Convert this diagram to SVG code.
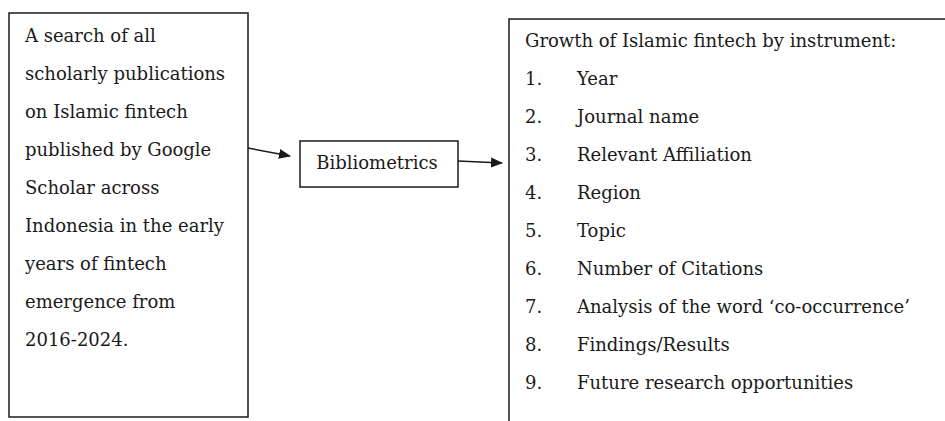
<svg xmlns="http://www.w3.org/2000/svg" width="945" height="421" viewBox="0 0 945 421">
<defs>
<style>
.box{fill:#fff;stroke:#1a1a1a;stroke-width:1.5}
.t{font-family:"DejaVu Serif","Liberation Serif",serif;font-size:18px;fill:#1a1a1a}
.c{stroke:#1a1a1a;stroke-width:1.5;fill:none}
</style>
<marker id="ah" markerWidth="12" markerHeight="12" refX="11" refY="6" orient="auto" markerUnits="userSpaceOnUse">
<path d="M0,1 L12,6 L0,11 Z" fill="#1a1a1a"/>
</marker>
</defs>
<rect width="945" height="421" fill="#fff"/>
<g id="source">
<rect class="box" x="9" y="13" width="239" height="404"/>
<text class="t" x="25" y="42">A search of all</text>
<text class="t" x="25" y="80">scholarly publications</text>
<text class="t" x="25" y="118">on Islamic fintech</text>
<text class="t" x="25" y="156">published by Google</text>
<text class="t" x="25" y="194">Scholar across</text>
<text class="t" x="25" y="232">Indonesia in the early</text>
<text class="t" x="25" y="270">years of fintech</text>
<text class="t" x="25" y="308">emergence from</text>
<text class="t" x="25" y="346">2016-2024.</text>
</g>
<g id="bibliometrics">
<rect class="box" x="300" y="141" width="158" height="46"/>
<text class="t" x="377" y="169" text-anchor="middle">Bibliometrics</text>
</g>
<g id="results">
<rect class="box" x="509" y="19" width="500" height="500"/>
<text class="t" x="525" y="47">Growth of Islamic fintech by instrument:</text>
<text class="t" x="525" y="85">1.</text><text class="t" x="577" y="85">Year</text>
<text class="t" x="525" y="123">2.</text><text class="t" x="577" y="123">Journal name</text>
<text class="t" x="525" y="161">3.</text><text class="t" x="577" y="161">Relevant Affiliation</text>
<text class="t" x="525" y="199">4.</text><text class="t" x="577" y="199">Region</text>
<text class="t" x="525" y="237">5.</text><text class="t" x="577" y="237">Topic</text>
<text class="t" x="525" y="275">6.</text><text class="t" x="577" y="275">Number of Citations</text>
<text class="t" x="525" y="313">7.</text><text class="t" x="577" y="313">Analysis of the word ‘co-occurrence’</text>
<text class="t" x="525" y="351">8.</text><text class="t" x="577" y="351">Findings/Results</text>
<text class="t" x="525" y="389">9.</text><text class="t" x="577" y="389">Future research opportunities</text>
</g>
<g id="connectors">
<line class="c" x1="248" y1="148" x2="290" y2="156" marker-end="url(#ah)"/>
<line class="c" x1="458" y1="161" x2="502" y2="163" marker-end="url(#ah)"/>
</g>
</svg>
